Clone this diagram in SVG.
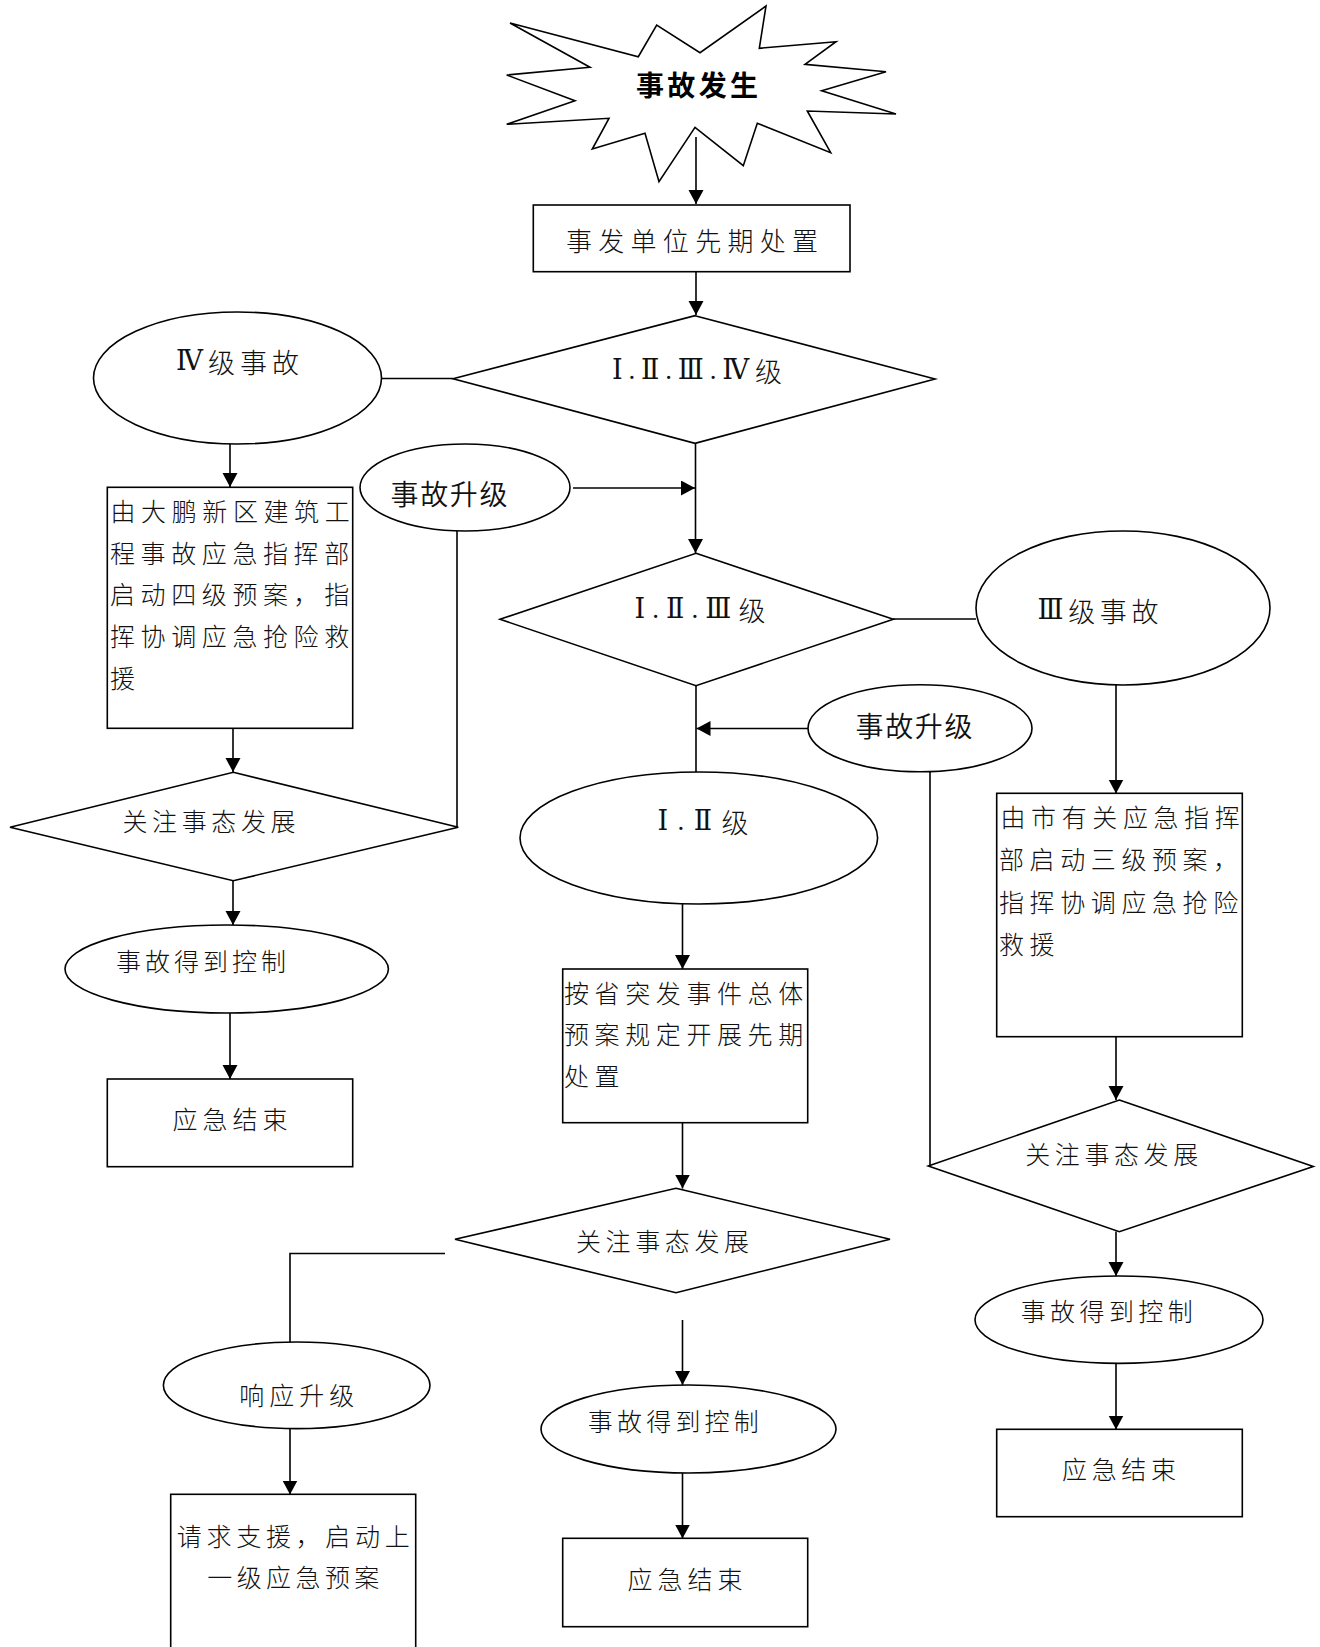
<svg xmlns="http://www.w3.org/2000/svg" width="1320" height="1647" viewBox="0 0 1320 1647">
<style>
.shape{fill:#fff;stroke:#000;stroke-width:1.6}
.conn{fill:none;stroke:#000;stroke-width:1.6}
.arr{marker-end:url(#ah)}
text{font-family:"Noto Sans CJK SC","Noto Sans CJK JP",sans-serif;fill:#111;font-weight:300}
.lb{font-size:25px;text-anchor:middle;dominant-baseline:central}
.lg{font-size:27px;text-anchor:middle;dominant-baseline:central}
.bx{font-size:25px;letter-spacing:5.6px;dominant-baseline:central}
.rn{font-family:"Liberation Serif","DejaVu Serif","Noto Sans CJK SC",serif}
</style>
<defs>
<marker id="ah" markerUnits="userSpaceOnUse" markerWidth="16" markerHeight="16" refX="14" refY="7.5" orient="auto">
<path d="M0,0 L14,7.5 L0,15 z" fill="#000"/>
</marker>
</defs>
<rect width="1320" height="1647" fill="#fff"/>

<g id="connectors">
<line class="conn arr" x1="696" y1="137" x2="696" y2="204"/>
<line class="conn arr" x1="696" y1="272" x2="696" y2="315"/>
<line class="conn" x1="382" y1="378.5" x2="453" y2="378.5"/>
<line class="conn arr" x1="695.5" y1="443" x2="695.5" y2="553"/>
<line class="conn arr" x1="573" y1="488" x2="695" y2="488"/>
<line class="conn arr" x1="230" y1="444" x2="230" y2="487"/>
<line class="conn" x1="457" y1="531" x2="457" y2="827.5"/>
<line class="conn arr" x1="233" y1="728.5" x2="233" y2="772"/>
<line class="conn arr" x1="233" y1="881" x2="233" y2="925"/>
<line class="conn arr" x1="230" y1="1013" x2="230" y2="1079"/>
<line class="conn" x1="893" y1="619" x2="976" y2="619"/>
<line class="conn" x1="696" y1="685.5" x2="696" y2="772.5"/>
<line class="conn arr" x1="808" y1="728.5" x2="696.5" y2="728.5"/>
<line class="conn arr" x1="1116" y1="685" x2="1116" y2="793.5"/>
<line class="conn" x1="930" y1="771.5" x2="930" y2="1166"/>
<line class="conn arr" x1="682.5" y1="903.5" x2="682.5" y2="969"/>
<line class="conn arr" x1="682.5" y1="1123" x2="682.5" y2="1188.5"/>
<line class="conn arr" x1="1116" y1="1037" x2="1116" y2="1100"/>
<polyline class="conn" points="445,1253.5 290,1253.5 290,1342"/>
<line class="conn arr" x1="290" y1="1426" x2="290" y2="1494.5"/>
<line class="conn arr" x1="682.5" y1="1320" x2="682.5" y2="1385"/>
<line class="conn arr" x1="682.5" y1="1473" x2="682.5" y2="1538.5"/>
<line class="conn arr" x1="1116" y1="1231.5" x2="1116" y2="1276"/>
<line class="conn arr" x1="1116" y1="1363.5" x2="1116" y2="1429.5"/>
</g>

<g id="n-start">
<polygon class="shape" points="510,23 638.3,56.7 656.7,25 700,52.7 766,6 759.3,48.3 836,41.7 805,64.3 886,71.7 821.7,90.7 896,114 807.3,111 830.7,152.7 757.3,123.3 743.3,165.7 695,127.3 659,181.7 645,133.3 592.3,149 609,118.3 506.7,124.3 575,100.7 506.7,75 590,67.3"/>
<text x="697" y="84" style="font-size:28px;font-weight:bold;text-anchor:middle;dominant-baseline:central;fill:#000" textLength="122" lengthAdjust="spacing">事故发生</text>
</g>

<g id="n-first">
<rect class="shape" x="533.3" y="205" width="316.7" height="66.7"/>
<text class="lg" x="692" y="239" style="font-size:26px" textLength="252" lengthAdjust="spacing">事发单位先期处置</text>
</g>

<g id="n-d1">
<polygon class="shape" points="695,315.7 935,379 695,443.3 453,378.7"/>
<text class="lg" x="697" y="370" textLength="170" lengthAdjust="spacing"><tspan class="rn">Ⅰ.Ⅱ.Ⅲ.Ⅳ</tspan>级</text>
</g>

<g id="n-iv">
<ellipse class="shape" cx="237.5" cy="378" rx="144" ry="66"/>
<text class="lg" x="237.5" y="361" textLength="123" lengthAdjust="spacing"><tspan class="rn">Ⅳ</tspan>级事故</text>
</g>

<g id="n-up1">
<ellipse class="shape" cx="465" cy="487.5" rx="105" ry="43.5"/>
<text class="lg" x="449" y="493" style="font-size:28px;font-weight:350" textLength="117" lengthAdjust="spacing">事故升级</text>
</g>

<g id="n-box4">
<rect class="shape" x="107.3" y="487.3" width="245.4" height="241"/>
<text class="bx" x="110.5" y="510">由大鹏新区建筑工</text>
<text class="bx" x="110" y="551.7">程事故应急指挥部</text>
<text class="bx" x="110" y="593.3">启动四级预案，指</text>
<text class="bx" x="110" y="635">挥协调应急抢险救</text>
<text class="bx" x="110" y="676.7">援</text>
</g>

<g id="n-watch4">
<polygon class="shape" points="233.3,772.3 458.3,827.3 233.3,880.7 10,827.3"/>
<text class="lb" x="209" y="820" textLength="173" lengthAdjust="spacing">关注事态发展</text>
</g>

<g id="n-ctrl4">
<ellipse class="shape" cx="226.7" cy="969" rx="161.7" ry="44"/>
<text class="lb" x="201" y="960" textLength="170" lengthAdjust="spacing">事故得到控制</text>
</g>

<g id="n-end4">
<rect class="shape" x="107.3" y="1079" width="245.4" height="87.7"/>
<text class="lb" x="230" y="1117.5" textLength="115" lengthAdjust="spacing">应急结束</text>
</g>

<g id="n-d2">
<polygon class="shape" points="696,553.3 893.3,619.3 696,685.7 500,619.3"/>
<text class="lg" x="700" y="609" textLength="131" lengthAdjust="spacing"><tspan class="rn">Ⅰ.Ⅱ.Ⅲ</tspan>级</text>
</g>

<g id="n-iii">
<ellipse class="shape" cx="1123" cy="608" rx="147" ry="77"/>
<text class="lg" x="1098" y="610" textLength="121" lengthAdjust="spacing"><tspan class="rn">Ⅲ</tspan>级事故</text>
</g>

<g id="n-up2">
<ellipse class="shape" cx="920" cy="728.3" rx="112" ry="43.5"/>
<text class="lg" x="914" y="725" style="font-size:28px;font-weight:350" textLength="117" lengthAdjust="spacing">事故升级</text>
</g>

<g id="n-iii-box">
<rect class="shape" x="996.7" y="793.3" width="245.6" height="243.4"/>
<text class="bx" x="1000.5" y="815.8">由市有关应急指挥</text>
<text class="bx" x="999" y="858">部启动三级预案，</text>
<text class="bx" x="999" y="901">指挥协调应急抢险</text>
<text class="bx" x="999" y="942.5">救援</text>
</g>

<g id="n-i-ii">
<ellipse class="shape" cx="698.8" cy="838" rx="178.8" ry="66"/>
<text class="lg" x="703" y="821" textLength="91" lengthAdjust="spacing"><tspan class="rn">Ⅰ.Ⅱ</tspan>级</text>
</g>

<g id="n-prov">
<rect class="shape" x="562.7" y="969" width="245" height="153.7"/>
<text class="bx" x="564" y="991.7">按省突发事件总体</text>
<text class="bx" x="564" y="1033.3">预案规定开展先期</text>
<text class="bx" x="564" y="1075">处置</text>
</g>

<g id="n-watch-m">
<polygon class="shape" points="676,1188.3 890,1239.3 676,1292.7 455,1239.3"/>
<text class="lb" x="662.5" y="1240" textLength="173" lengthAdjust="spacing">关注事态发展</text>
</g>

<g id="n-resp">
<ellipse class="shape" cx="296.7" cy="1385.3" rx="133.3" ry="43.3"/>
<text class="lb" x="296.7" y="1393.5" textLength="115" lengthAdjust="spacing">响应升级</text>
</g>

<g id="n-req">
<rect class="shape" x="170.7" y="1494.3" width="245" height="180"/>
<text class="lb" x="293.3" y="1534.5" textLength="233" lengthAdjust="spacing">请求支援，启动上</text>
<text class="lb" x="293.3" y="1576" textLength="172" lengthAdjust="spacing">一级应急预案</text>
</g>

<g id="n-ctrl-m">
<ellipse class="shape" cx="688.5" cy="1429" rx="147.5" ry="44"/>
<text class="lb" x="673.3" y="1420" textLength="171" lengthAdjust="spacing">事故得到控制</text>
</g>

<g id="n-end-m">
<rect class="shape" x="562.7" y="1538.3" width="245" height="88.4"/>
<text class="lb" x="685" y="1577.5" textLength="115" lengthAdjust="spacing">应急结束</text>
</g>

<g id="n-watch3">
<polygon class="shape" points="1119.3,1100 1313.3,1166.5 1119.3,1231.7 928.3,1166"/>
<text class="lb" x="1111.7" y="1153.3" textLength="173" lengthAdjust="spacing">关注事态发展</text>
</g>

<g id="n-ctrl3">
<ellipse class="shape" cx="1119" cy="1319.7" rx="144" ry="43.7"/>
<text class="lb" x="1106.7" y="1310" textLength="172" lengthAdjust="spacing">事故得到控制</text>
</g>

<g id="n-end3">
<rect class="shape" x="996.7" y="1429.3" width="245.6" height="87.4"/>
<text class="lb" x="1119" y="1467.5" textLength="114" lengthAdjust="spacing">应急结束</text>
</g>
</svg>
